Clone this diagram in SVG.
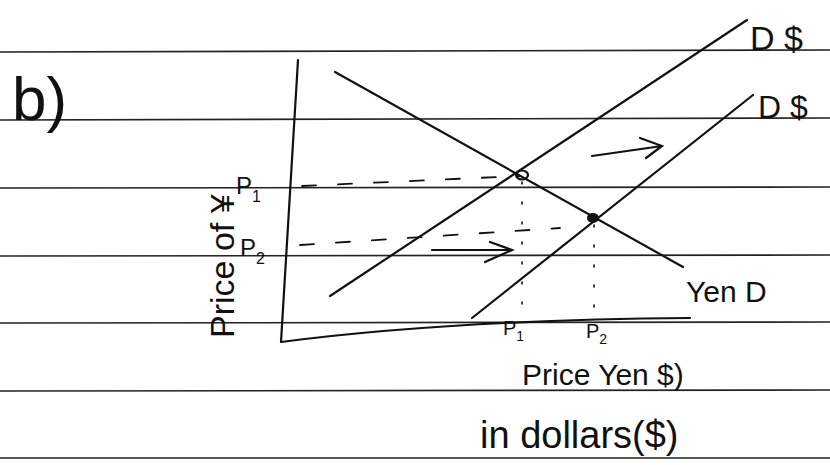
<svg xmlns="http://www.w3.org/2000/svg" width="830" height="465" viewBox="0 0 830 465">
<style>
.rule{stroke:#222;stroke-width:1.6;fill:none}
.ln{stroke:#111;stroke-width:2.2;fill:none;stroke-linecap:round}
.dash{stroke:#111;stroke-width:1.8;fill:none;stroke-dasharray:14 22;stroke-linecap:round}
.dot{stroke:#111;stroke-width:1.6;fill:none;stroke-dasharray:2 18;stroke-linecap:round}
.t{font-family:"Liberation Sans",Arial,sans-serif;fill:#111}
</style>
<rect width="830" height="465" fill="#fff"/>
<g id="paper">
<line class="rule" x1="0" y1="52" x2="830" y2="50"/>
<line class="rule" x1="0" y1="120" x2="830" y2="118"/>
<line class="rule" x1="0" y1="188" x2="830" y2="187"/>
<line class="rule" x1="0" y1="256" x2="830" y2="255"/>
<line class="rule" x1="0" y1="323" x2="830" y2="322"/>
<line class="rule" x1="0" y1="391" x2="830" y2="390"/>
<line class="rule" x1="0" y1="458" x2="830" y2="458"/>
</g>
<g id="axes">
<path class="ln" d="M298,60 L281,342"/>
<path class="ln" d="M281,342 Q450,320 690,318"/>
</g>
<g id="connectors">
<line class="ln" x1="335" y1="72" x2="683" y2="267"/>
<line class="ln" x1="330" y1="296" x2="747" y2="20"/>
<line class="ln" x1="472" y1="318" x2="753" y2="95"/>
<path class="dash" d="M302,186 L520,176"/>
<path class="dash" d="M300,245 L560,228"/>
<path class="dot" d="M522,182 L522,320"/>
<path class="dot" d="M594,225 L594,318"/>
<path class="ln" d="M592,156 L662,146 M640,138 L662,146 L646,158"/>
<path class="ln" d="M432,250 L512,250 M490,242 L512,250 L485,262"/>
</g>
<g id="points">
<ellipse cx="522" cy="175" rx="6" ry="4.5" fill="none" stroke="#111" stroke-width="2.2"/>
<ellipse cx="593" cy="218" rx="6" ry="5" fill="#111"/>
</g>
<g id="labels">
<text class="t" x="12" y="120" font-size="62">b)</text>
<text class="t" x="236" y="194" font-size="24">P<tspan font-size="16" dy="8">1</tspan></text>
<text class="t" x="240" y="256" font-size="24">P<tspan font-size="16" dy="8">2</tspan></text>
<text class="t" font-size="34" transform="translate(234,338) rotate(-90)">Price of ¥</text>
<text class="t" x="503" y="335" font-size="20">P<tspan font-size="14" dy="6">1</tspan></text>
<text class="t" x="586" y="338" font-size="20">P<tspan font-size="14" dy="6">2</tspan></text>
<text class="t" x="522" y="385" font-size="30">Price Yen $)</text>
<text class="t" x="480" y="448" font-size="38">in dollars($)</text>
<text class="t" x="686" y="302" font-size="30">Yen D</text>
<text class="t" x="750" y="50" font-size="34">D $</text>
<text class="t" x="758" y="118" font-size="32">D $</text>
</g>
</svg>
